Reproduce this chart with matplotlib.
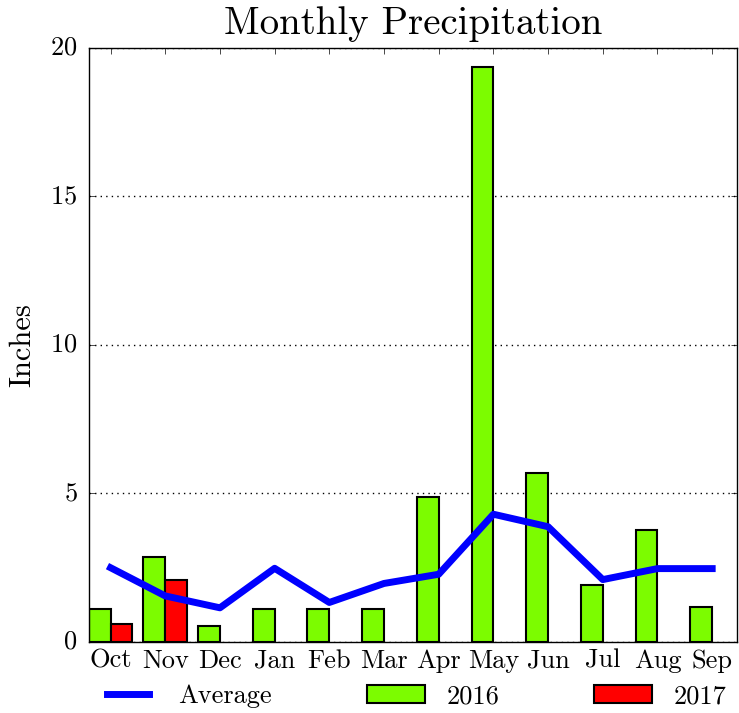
import matplotlib
matplotlib.use("Agg")
import matplotlib.pyplot as plt
import numpy as np

months = ["Oct", "Nov", "Dec", "Jan", "Feb", "Mar", "Apr", "May", "Jun", "Jul", "Aug", "Sep"]
precip_2016 = [1.1, 2.85, 0.55, 1.1, 1.1, 1.1, 4.88, 19.35, 5.7, 1.92, 3.76, 1.19]
precip_2017 = [0.62, 2.1, np.nan, np.nan, np.nan, np.nan, np.nan, np.nan, np.nan, np.nan, np.nan, np.nan]
average = [2.5, 1.55, 1.15, 2.48, 1.33, 1.97, 2.28, 4.3, 3.88, 2.1, 2.47, 2.47]

plt.style.use("classic")
plt.rcParams["font.family"] = ["cmr10", "DejaVu Serif"]
plt.rcParams["axes.formatter.use_mathtext"] = True

fig = plt.figure(figsize=(7.39, 7.13), dpi=100)
fig.patch.set_facecolor("white")
ax = fig.add_axes([0.120, 0.0996, 0.877, 0.8334])

x = np.arange(len(months))
w = 0.4
ax.bar(x - w, precip_2016, width=w, align="edge", color="#7CFC00", edgecolor="black", linewidth=1.5, label="2016", zorder=2)
ax.bar(x, precip_2017, width=w, align="edge", color="red", edgecolor="black", linewidth=1.5, label="2017", zorder=2)
ax.plot(x, average, color="blue", linewidth=5, label="Average", zorder=3)

ax.set_xlim(-0.4, 11.45)
ax.set_ylim(0, 20)
ax.set_xticks(x)
ax.set_xticklabels(months, fontsize=19)
ax.set_yticks([0, 5, 10, 15, 20])
ax.tick_params(axis="y", labelsize=19, pad=8)
ax.tick_params(axis="x", pad=5)
ax.yaxis.grid(True, linestyle=":", color="black", linewidth=1)
ax.set_axisbelow(True)
ax.set_ylabel("Inches", fontsize=22, labelpad=10)
ax.set_title("Monthly Precipitation", fontsize=28, pad=10)

handles, labels = ax.get_legend_handles_labels()
order = [labels.index("Average"), labels.index("2016"), labels.index("2017")]
ax.legend([handles[i] for i in order], [labels[i] for i in order],
          ncol=3, mode="expand", loc="upper left", bbox_to_anchor=(0, -0.074, 1, 0.02),
          frameon=False, fontsize=19, handlelength=2.2, borderaxespad=0)

fig.savefig("out.png", dpi=100, facecolor="white")
